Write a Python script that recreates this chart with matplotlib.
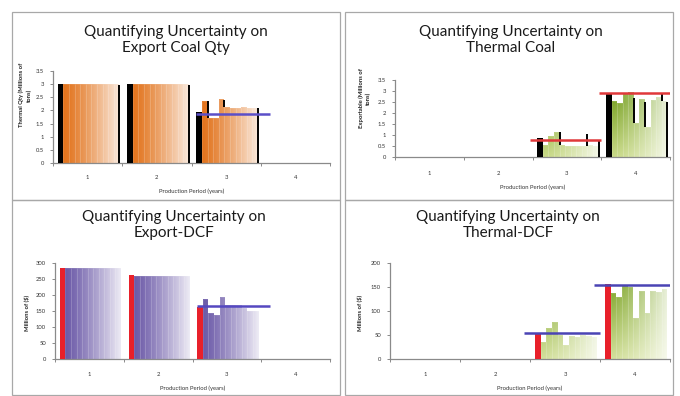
import numpy as np
import matplotlib
matplotlib.use("Agg")
import matplotlib.pyplot as plt
from matplotlib.path import Path
from matplotlib.patches import PathPatch, Rectangle
from matplotlib.transforms import Affine2D
from matplotlib.colors import to_rgb

nan = np.nan

# ---------------------------------------------------------------- data
periods = ["1", "2", "3", "4"]

# Export coal quantity (Mt): deterministic case, simulation runs, run highs, mean
export_qty_base = [3.00, 3.00, 1.95, nan]
export_qty_runs = [
    [3.00, 3.00, 3.00, 3.00, 3.00, 3.00, 3.00, 3.00, 3.00, 3.00],
    [3.00, 3.00, 3.00, 3.00, 3.00, 3.00, 3.00, 3.00, 3.00, 3.00],
    [2.35, 1.72, 1.70, 2.42, 2.12, 2.08, 2.10, 2.12, 2.10, 2.10],
    [],
]
export_qty_high = [
    [nan, nan, nan, nan, nan, nan, nan, nan, nan, 2.95],
    [nan, nan, nan, nan, nan, nan, nan, nan, nan, 2.95],
    [2.35, nan, nan, 2.40, 2.10, nan, 2.10, nan, nan, 2.10],
    [],
]
export_qty_mean = [nan, nan, 1.85, nan]

# Thermal coal quantity (Mt)
thermal_qty_base = [nan, nan, 0.85, 2.85]
thermal_qty_runs = [
    [],
    [],
    [0.55, 0.95, 1.12, 0.55, 0.50, 0.50, 0.52, 0.50, 0.55, 0.50],
    [2.55, 2.45, 2.90, 2.95, 1.55, 2.65, 1.35, 2.60, 2.75, 2.55],
]
thermal_qty_high = [
    [],
    [],
    [nan, nan, 1.12, nan, nan, nan, nan, 1.05, nan, 0.72],
    [nan, nan, nan, 2.70, nan, 2.50, nan, nan, 2.90, 2.50],
]
thermal_qty_mean = [nan, nan, 0.76, 2.90]

# Export discounted cash flow (millions of $)
export_dcf_base = [285, 262, 163, nan]
export_dcf_runs = [
    [283, 283, 283, 283, 283, 283, 283, 283, 283, 283],
    [260, 260, 260, 260, 260, 260, 260, 260, 260, 260],
    [187, 144, 137, 194, 170, 168, 170, 160, 150, 150],
    [],
]
export_dcf_high = [[], [], [], []]
export_dcf_mean = [nan, nan, 165, nan]

# Thermal discounted cash flow (millions of $)
thermal_dcf_base = [nan, nan, 54, 156]
thermal_dcf_runs = [
    [],
    [],
    [35, 65, 77, 50, 30, 48, 45, 50, 48, 45],
    [137, 130, 154, 150, 85, 142, 95, 142, 140, 145],
]
thermal_dcf_high = [[], [], [], []]
thermal_dcf_mean = [nan, nan, 55, 155]

# ---------------------------------------------------------------- layout
W, H = 680, 396
N_SLOTS = 11          # one deterministic bar + ten runs per period
GROUP_OFF = -0.43     # group left edge relative to the period centre
GROUP_W = 0.89

plt.rcParams["font.family"] = ["Lato", "DejaVu Sans"]

fig = plt.figure(figsize=(W / 100, H / 100), dpi=100)
fig.patch.set_facecolor("white")


def px_rect(l, t, r, b):
    return [l / W, 1 - b / H, (r - l) / W, (b - t) / H]


# panel frames
for l, t, r, b in [(12, 12, 340, 200), (345, 12, 673, 200),
                   (12, 200, 340, 395), (345, 200, 673, 395)]:
    fig.patches.append(Rectangle((l / W, 1 - b / H), (r - l) / W, (b - t) / H,
                                 transform=fig.transFigure, fill=False,
                                 edgecolor="#a8a8a8", lw=0.9))


def draw_panel(spec, base, runs, highs, means):
    ax = fig.add_axes(px_rect(*spec["rect"]))
    ymax = spec["ymax"]
    slot = GROUP_W / N_SLOTS
    centers = np.arange(1, len(periods) + 1)

    run_x, run_h = [], []
    for i, c in enumerate(centers):
        gl = c + GROUP_OFF
        if not np.isnan(base[i]):
            ax.bar(gl, base[i], slot, align="edge", color=spec["base_col"],
                   lw=0, zorder=3)
        for k, v in enumerate(runs[i]):
            run_x.append(gl + (k + 1) * slot)
            run_h.append(v)
        # highs drawn at the right edge of their run bar
        row = runs[i]
        for k, hv in enumerate(highs[i]):
            if np.isnan(hv):
                continue
            xe = gl + (k + 2) * slot
            lo = min(row[k], row[k + 1]) if k + 1 < len(row) else 0.0
            ax.vlines(xe, lo, hv, color="black", lw=1.4, zorder=4)
        if not np.isnan(means[i]):
            s0, s1 = spec["mean_span"]
            ax.hlines(means[i], c + s0, min(c + s1, 4.5),
                      color=spec["mean_col"], lw=1.8, zorder=5)

    # gradient-filled run bars
    if run_x:
        paths = [Path.unit_rectangle().transformed(
            Affine2D().scale(slot, h).translate(x, 0))
            for x, h in zip(run_x, run_h)]
        clip = PathPatch(Path.make_compound_path(*paths),
                         transform=ax.transData, facecolor="none")
        xs = np.linspace(0.5, 4.5, 1600)
        ys = np.linspace(0, ymax, 300)
        frac = (xs - 0.5) % 1.0
        t = np.clip((frac - (0.5 + GROUP_OFF) - slot) / (GROUP_W - slot), 0, 1)
        f = spec["fade"] * t ** 1.2
        top = np.array(to_rgb(spec["top_col"]))
        bot = np.array(to_rgb(spec["bot_col"]))
        s = (ys / ymax)[:, None, None]
        col = bot + (top - bot) * np.clip(s * spec["vscale"], 0, 1)
        img = col * (1 - f[None, :, None]) + f[None, :, None]
        im = ax.imshow(img, extent=[0.5, 4.5, 0, ymax], origin="lower",
                       aspect="auto", interpolation="bilinear", zorder=2)
        im.set_clip_path(clip)
        ax.bar(run_x, run_h, slot, align="edge", facecolor="none",
               edgecolor=(1, 1, 1, 0.18), lw=0.4, zorder=2.5)

    ax.set_xlim(0.5, 4.5)
    ax.set_ylim(0, ymax)
    for sp in ("top", "right"):
        ax.spines[sp].set_visible(False)
    for sp in ("left", "bottom"):
        ax.spines[sp].set_color("#8a8a8a")
        ax.spines[sp].set_linewidth(0.9)

    ax.set_yticks(spec["yticks"])
    ax.set_yticklabels(spec["ylabels"])
    ax.tick_params(axis="y", length=2.5, width=0.7, color="#8a8a8a",
                   labelsize=4.2, labelcolor="#333333", pad=4)
    ax.set_xticks(np.arange(0.5, 5.0, 1.0))
    ax.set_xticklabels([])
    ax.set_xticks(centers, minor=True)
    ax.set_xticklabels(periods, minor=True)
    ax.tick_params(axis="x", which="major", length=2.5, width=0.7,
                   color="#8a8a8a")
    ax.tick_params(axis="x", which="minor", length=0, labelsize=4.2,
                   labelcolor="#333333", pad=spec["xpad"])

    ax.text(spec["ylab_xy"][0], spec["ylab_xy"][1], spec["ylabel"],
            transform=ax.transAxes, rotation=90, ha="center", va="center",
            multialignment="center", fontsize=4.2, fontweight="bold",
            color="#222222", linespacing=1.4)
    ax.text(0.5, spec["xlab_y"], "Production Period (years)",
            transform=ax.transAxes, ha="center", va="center",
            fontsize=4.2, color="#333333")
    fig.text(spec["title_xy"][0] / W, 1 - spec["title_xy"][1] / H,
             spec["title"], ha="center", va="center", fontsize=11,
             color="#1a1a1a", linespacing=1.15)
    return ax


qty_ticks = [0, 0.5, 1, 1.5, 2, 2.5, 3, 3.5]
qty_labels = ["0", "0.5", "1", "1.5", "2", "2.5", "3", "3.5"]

specs = [
    dict(rect=(53, 71, 330, 163), ymax=3.5, yticks=qty_ticks, ylabels=qty_labels,
         base_col="black", top_col="#e2731c", bot_col="#e2731c", vscale=1.0,
         fade=0.85, mean_col="#5b4fc8", mean_span=(-0.43, 0.63),
         title="Quantifying Uncertainty on\nExport Coal Qty", title_xy=(176, 40),
         ylabel="Thermal Qty (Millions of\ntons)", ylab_xy=(-0.10, 0.74),
         xlab_y=-0.31, xpad=9),
    dict(rect=(395, 80, 670, 157), ymax=3.5, yticks=qty_ticks, ylabels=qty_labels,
         base_col="black", top_col="#7fa62a", bot_col="#c8d985", vscale=1.4,
         fade=0.82, mean_col="#e0383a", mean_span=(-0.54, 0.5),
         title="Quantifying Uncertainty on\nThermal Coal", title_xy=(511, 40),
         ylabel="Exportable (Millions of\ntons)", ylab_xy=(-0.11, 0.76),
         xlab_y=-0.39, xpad=10),
    dict(rect=(55, 263, 330, 359), ymax=300, yticks=list(range(0, 301, 50)),
         ylabels=[str(v) for v in range(0, 301, 50)],
         base_col="#e8202a", top_col="#6c5aa8", bot_col="#6c5aa8", vscale=1.0,
         fade=0.88, mean_col="#5548c0", mean_span=(-0.44, 0.63),
         title="Quantifying Uncertainty on\nExport-DCF", title_xy=(174, 225),
         ylabel="Millions of ($)", ylab_xy=(-0.10, 0.48),
         xlab_y=-0.30, xpad=9),
    dict(rect=(390, 263, 670, 359), ymax=200, yticks=list(range(0, 201, 50)),
         ylabels=[str(v) for v in range(0, 201, 50)],
         base_col="#e8202a", top_col="#7fa62a", bot_col="#d3e09a", vscale=1.3,
         fade=0.82, mean_col="#4a44b4", mean_span=(-0.58, 0.5),
         title="Quantifying Uncertainty on\nThermal-DCF", title_xy=(508, 225),
         ylabel="Millions of ($)", ylab_xy=(-0.107, 0.48),
         xlab_y=-0.30, xpad=9),
]

draw_panel(specs[0], export_qty_base, export_qty_runs, export_qty_high, export_qty_mean)
draw_panel(specs[1], thermal_qty_base, thermal_qty_runs, thermal_qty_high, thermal_qty_mean)
draw_panel(specs[2], export_dcf_base, export_dcf_runs, export_dcf_high, export_dcf_mean)
draw_panel(specs[3], thermal_dcf_base, thermal_dcf_runs, thermal_dcf_high, thermal_dcf_mean)

fig.savefig("out.png", dpi=100, facecolor="white")
